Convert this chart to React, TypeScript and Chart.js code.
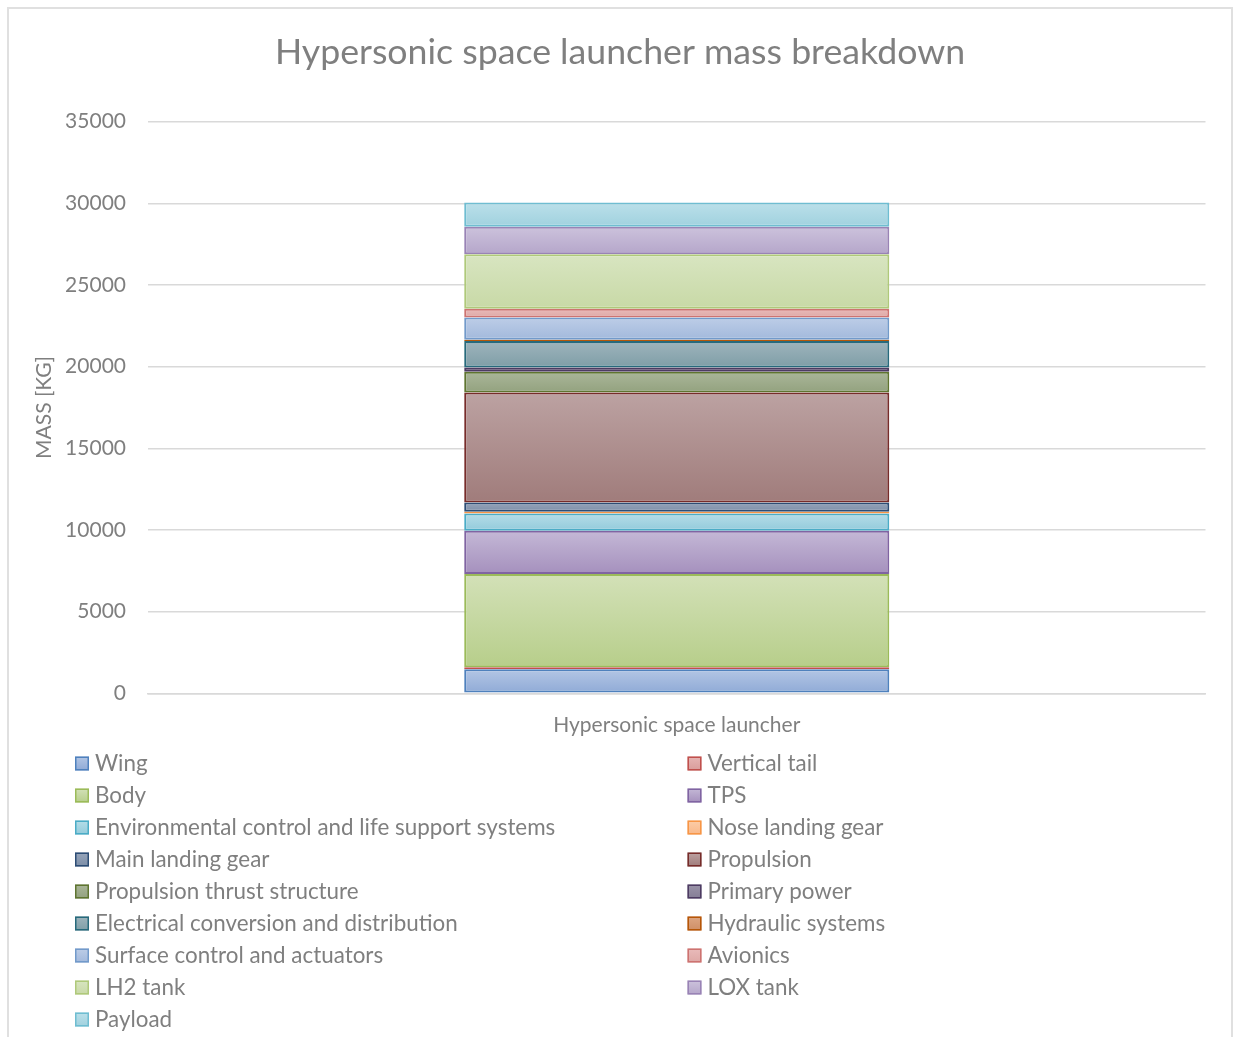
import React, { useEffect, useRef } from "react";
import { Chart, registerables } from "chart.js";

Chart.register(...registerables);

const categories = ["Hypersonic space launcher"];
const chartTitle = "Hypersonic space launcher mass breakdown";
const yAxisTitle = "MASS [KG]";

const seriesNames = [
  "Wing",
  "Vertical tail",
  "Body",
  "TPS",
  "Environmental control and life support systems",
  "Nose landing gear",
  "Main landing gear",
  "Propulsion",
  "Propulsion thrust structure",
  "Primary power",
  "Electrical conversion and distribution",
  "Hydraulic systems",
  "Surface control and actuators",
  "Avionics",
  "LH2 tank",
  "LOX tank",
  "Payload",
];

const seriesValues = [
  1470, 120, 5710, 2650, 1065, 100, 575, 6735, 1260, 270, 1610, 80, 1370, 525,
  3350, 1670, 1495,
];

const yTicks = [0, 5000, 10000, 15000, 20000, 25000, 30000, 35000];

const borderColors = [
  "#4F81BD", "#C0504D", "#9BBB59", "#8064A2", "#4BACC6", "#F79646",
  "#2C4D75", "#772C2A", "#5F7530", "#4D3B62", "#276A7C", "#B65708",
  "#729ACA", "#CD7371", "#AFC97A", "#9983B5", "#6FBDD1",
];
const fillTop = [
  "#B3C6E5", "#E6B5B4", "#D3E1B8", "#C4B8D6", "#B6DDE8", "#FCCDA8",
  "#97A5BA", "#BCA2A2", "#AAB699", "#9A93A8", "#9EB4BC", "#DDA683",
  "#BDCDE7", "#E9BBBA", "#D8E5C1", "#CCC2DC", "#BBE0EA",
];
const fillBottom = [
  "#8FAAD6", "#D99C9A", "#B7CE8A", "#A590BD", "#92CBDB", "#F9B889",
  "#7C8EA8", "#A07C7B", "#93A27F", "#857E96", "#7F9EA7", "#CF8F66",
  "#A2B9DC", "#DEA8A6", "#C8D9A6", "#B5A6CA", "#A0D1DE",
];

const FONT = "Lato, 'Noto Sans', sans-serif";
const TEXT = "#7f7f7f";
const GRID = "#d9d9d9";

function gradientFor(c: any, i: number) {
  const chart = c.chart;
  const y = chart.scales && chart.scales.y;
  if (!chart.chartArea || !y) return fillTop[i];
  let start = 0;
  for (let k = 0; k < i; k++) start += seriesValues[k];
  const end = start + seriesValues[i];
  const y0 = y.getPixelForValue(end);
  let y1 = y.getPixelForValue(start);
  if (!isFinite(y0) || !isFinite(y1)) return fillTop[i];
  if (y1 === y0) y1 = y0 + 1;
  const g = chart.ctx.createLinearGradient(0, y0, 0, y1);
  g.addColorStop(0, fillTop[i]);
  g.addColorStop(1, fillBottom[i]);
  return g;
}

const decorPlugin = {
  id: "decor",
  afterDraw(chart: any) {
    const ctx = chart.ctx as CanvasRenderingContext2D;
    ctx.save();
    ctx.fillStyle = TEXT;
    ctx.font = `35.7px ${FONT}`;
    ctx.textAlign = "center";
    ctx.textBaseline = "middle";
    ctx.fillText(chartTitle, 620, 52);

    ctx.font = `22.4px ${FONT}`;
    ctx.textAlign = "left";
    chart.data.datasets.forEach((ds: any, i: number) => {
      const col = i % 2;
      const row = Math.floor(i / 2);
      const bx = col === 0 ? 75 : 687.5;
      const cy = 763.5 + row * 32;
      const g = ctx.createLinearGradient(0, cy - 7, 0, cy + 7);
      g.addColorStop(0, fillTop[i]);
      g.addColorStop(1, fillBottom[i]);
      ctx.fillStyle = g;
      ctx.fillRect(bx, cy - 7, 14, 14);
      ctx.strokeStyle = ds.borderColor;
      ctx.lineWidth = 1.5;
      ctx.strokeRect(bx + 0.75, cy - 6.25, 12.5, 12.5);
      ctx.fillStyle = TEXT;
      ctx.fillText(ds.label, bx + 20, cy);
    });
    ctx.restore();
  },
};

export default function App() {
  const ref = useRef<HTMLCanvasElement>(null);
  useEffect(() => {
    const canvas = ref.current;
    if (!canvas) return;
    const font = { family: FONT, size: 21 };
    const datasets = seriesNames.map((name, i) => ({
      label: name,
      data: [seriesValues[i]],
      borderColor: borderColors[i],
      borderWidth: 2,
      borderSkipped: false as const,
      backgroundColor: (c: any) => gradientFor(c, i),
      barPercentage: 0.402,
      categoryPercentage: 1,
    }));
    const chart = new Chart(canvas, {
      type: "bar",
      data: { labels: categories, datasets },
      options: {
        responsive: false,
        animation: false,
        devicePixelRatio: 1,
        layout: { padding: { left: 20, top: 121.7, right: 29.5, bottom: 283.7 } },
        plugins: {
          legend: { display: false },
          title: { display: false },
          tooltip: { enabled: false },
        },
        scales: {
          x: {
            stacked: true,
            grid: { display: false },
            border: { display: true, color: GRID, width: 1.5 },
            ticks: { font, color: TEXT, padding: 11 },
            afterFit: (s: any) => {
              s.height = 60;
            },
          },
          y: {
            stacked: true,
            min: 0,
            max: 35000,
            afterBuildTicks: (s: any) => {
              s.ticks = yTicks.map((v) => ({ value: v }));
            },
            grid: { color: GRID, lineWidth: 1.5, drawTicks: false },
            border: { display: false },
            ticks: {
              font,
              color: TEXT,
              padding: 22,
              callback: (v: any) => String(v),
            },
            title: {
              display: true,
              text: yAxisTitle,
              font,
              color: TEXT,
              padding: { top: 12, bottom: 0 },
            },
            afterFit: (s: any) => {
              s.width = 128;
            },
          },
        },
      } as any,
      plugins: [decorPlugin],
    });
    return () => chart.destroy();
  }, []);

  return (
    <div style={{ position: "fixed", left: 0, top: 0, right: 0, bottom: 0, overflow: "hidden", background: "#fff" }}>
      <canvas ref={ref} width={1235} height={1037} style={{ position: "absolute", left: 0, top: 0, display: "block" }} />
      <div
        style={{
          position: "absolute",
          left: 7,
          top: 7,
          width: 1226,
          height: 1100,
          border: "2px solid #e0e0e0",
          boxSizing: "border-box",
          pointerEvents: "none",
        }}
      />
    </div>
  );
}
